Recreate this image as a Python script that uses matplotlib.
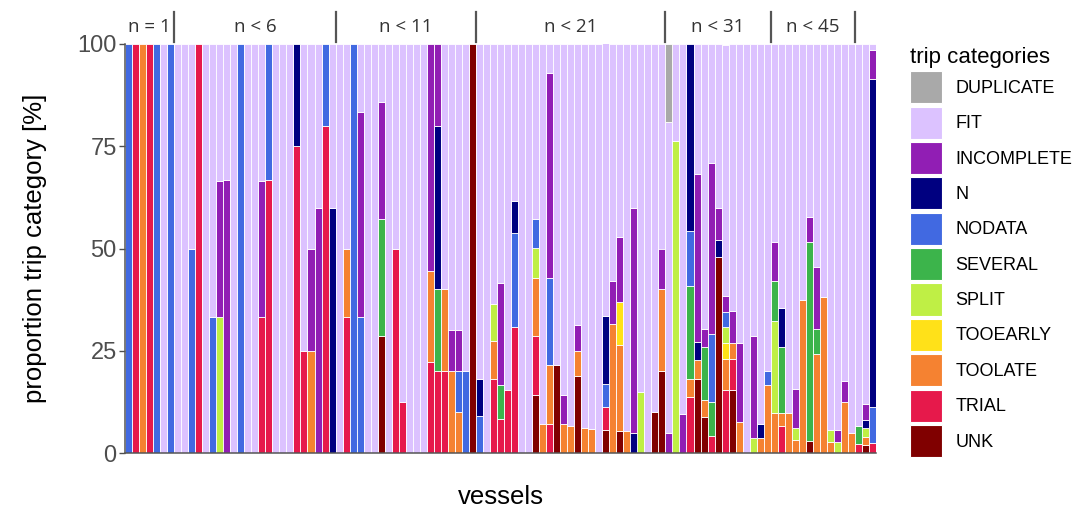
import matplotlib
matplotlib.use('Agg')
import matplotlib.pyplot as plt
import numpy as np
from matplotlib.patches import Patch
from matplotlib.transforms import blended_transform_factory

# stacking order, bottom -> top
CATEGORIES = ['UNK', 'TRIAL', 'TOOLATE', 'TOOEARLY', 'SPLIT', 'SEVERAL',
              'NODATA', 'N', 'INCOMPLETE', 'FIT', 'DUPLICATE']
COLORS = {
    'DUPLICATE': '#A9A9A9',
    'FIT': '#DCC2FF',
    'INCOMPLETE': '#911EB4',
    'N': '#000080',
    'NODATA': '#4169E1',
    'SEVERAL': '#3CB44B',
    'SPLIT': '#BFEF45',
    'TOOEARLY': '#FFE119',
    'TOOLATE': '#F58231',
    'TRIAL': '#E6194B',
    'UNK': '#800000',
}

N_VESSELS = 107

# proportion [%] per vessel (vessel number -> value), zeros left out
UNK = {37: 28.6, 50: 100, 59: 14.3, 62: 21.4, 65: 18.8, 69: 5.6, 71: 5.3,
       76: 10, 77: 20, 82: 18.2, 83: 8.7, 85: 48, 87: 15.4, 98: 3.0, 106: 2}
TRIAL = {2: 100, 4: 100, 11: 100, 20: 33.3, 21: 66.7, 25: 75, 26: 25, 29: 80,
         32: 33.3, 39: 50, 40: 12.5, 44: 22.2, 45: 20, 46: 20, 53: 18.2,
         54: 8.3, 55: 15.4, 56: 30.8, 59: 14.3, 61: 7.1, 69: 5.6, 81: 13.6,
         84: 4.2, 86: 15.4, 87: 7.7, 94: 6.5, 105: 2.2, 107: 2.5}
TOOLATE = {3: 100, 27: 25, 32: 16.7, 44: 22.2, 46: 20, 47: 20, 48: 10,
           53: 9.1, 59: 14.3, 60: 7.1, 61: 14.3, 63: 7.1, 64: 6.7, 65: 6.2,
           66: 6.2, 67: 5.9, 70: 31.6, 71: 21.1, 72: 5.3, 77: 20, 81: 4.5,
           82: 4.5, 83: 4.3, 86: 7.7, 87: 3.8, 88: 7.7, 91: 3.6, 92: 16.7,
           93: 9.7, 94: 3.2, 95: 9.7, 96: 3.1, 97: 37.5, 99: 24.2, 100: 38.2,
           101: 2.8, 103: 12.5, 104: 4.8, 106: 2}
TOOEARLY = {71: 10.5, 86: 3.8}
SPLIT = {14: 33.3, 53: 9.1, 59: 7.1, 74: 15, 79: 76.2, 86: 3.8, 90: 3.6,
         93: 22.6, 96: 3.1, 101: 2.8, 102: 2.8, 106: 2}
SEVERAL = {37: 28.6, 45: 20, 54: 8.3, 81: 22.7, 83: 13.0, 84: 8.3, 93: 9.7,
           94: 16.1, 98: 48.5, 99: 6.1, 105: 4.4}
NODATA = {1: 100, 5: 100, 7: 100, 10: 50, 13: 33.3, 17: 100, 21: 33.3,
          29: 20, 33: 100, 34: 33.3, 48: 10, 49: 20, 51: 9.1, 56: 23.1,
          59: 7.1, 61: 21.4, 69: 5.6, 81: 13.6, 84: 16.7, 86: 3.8, 92: 3.3,
          107: 8.7}
N = {25: 25, 30: 60, 45: 40, 51: 9.1, 56: 7.7, 69: 16.7, 73: 5, 81: 45.5,
     82: 4.5, 85: 4, 91: 3.6, 94: 9.7, 106: 2, 107: 80.2}
INCOMPLETE = {14: 33.3, 15: 66.7, 20: 33.3, 27: 25, 28: 60, 34: 50,
              37: 28.6, 44: 55.6, 45: 20, 47: 10, 48: 10, 54: 25, 61: 50,
              63: 7.1, 65: 6.2, 70: 10.5, 71: 15.8, 73: 55, 77: 10, 78: 4.8,
              80: 9.5, 82: 40.9, 83: 4.3, 84: 41.7, 85: 8, 86: 3.8, 87: 7.7,
              88: 19.2, 90: 25, 93: 9.7, 96: 9.4, 98: 6.1, 99: 15.2,
              102: 2.8, 103: 5, 106: 4, 107: 7.1}
FIT = [0, 0, 0, 0, 0, 100, 0, 100, 100, 50,
       0, 100, 66.7, 33.3, 33.3, 100, 0, 100, 100, 33.3,
       0, 100, 100, 100, 0, 75, 50, 40, 0, 40,
       100, 50, 0, 16.7, 100, 100, 14.3, 100, 50, 87.5,
       100, 100, 100, 0, 0, 60, 70, 70, 80, 0,
       81.8, 100, 63.6, 58.3, 84.6, 38.5, 100, 100, 42.9, 92.9,
       7.1, 78.6, 85.7, 93.3, 68.8, 93.8, 94.1, 100, 66.7, 57.9,
       47.4, 94.7, 40, 85, 100, 90, 50, 76.2, 23.8, 90.5,
       0, 31.8, 69.6, 29.2, 40, 61.5, 65.4, 73.1, 100, 71.4,
       92.8, 80, 48.4, 64.5, 90.3, 84.4, 62.5, 42.4, 54.5, 61.8,
       94.4, 94.4, 82.5, 95.2, 93.4, 88, 1.5]
DUPLICATE = {78: 19.0}

# vessel groups by number of trips: label, last vessel in group
GROUPS = [('n = 1', 7), ('n < 6', 30), ('n < 11', 50), ('n < 21', 77),
          ('n < 31', 92), ('n < 45', 104)]

SERIES = {'UNK': UNK, 'TRIAL': TRIAL, 'TOOLATE': TOOLATE, 'TOOEARLY': TOOEARLY,
          'SPLIT': SPLIT, 'SEVERAL': SEVERAL, 'NODATA': NODATA, 'N': N,
          'INCOMPLETE': INCOMPLETE, 'FIT': FIT, 'DUPLICATE': DUPLICATE}


def to_array(values):
    if isinstance(values, dict):
        arr = np.zeros(N_VESSELS)
        for k, v in values.items():
            arr[k - 1] = v
        return arr
    return np.array(values, dtype=float)


fig = plt.figure(figsize=(10.76, 5.08), dpi=100)
ax = fig.add_axes([125 / 1076, 1 - 453 / 508, 751 / 1076, 409 / 508])

x = np.arange(1, N_VESSELS + 1)
bottom = np.zeros(N_VESSELS)
for cat in CATEGORIES:
    vals = to_array(SERIES[cat])
    m = vals > 0
    ax.bar(x[m], vals[m], bottom=bottom[m], width=1.0, color=COLORS[cat],
           edgecolor='white', linewidth=0.6)
    bottom += vals

ax.set_xlim(0.5, N_VESSELS + 0.5)
ax.set_ylim(0, 100)
ax.set_xticks([])
ax.set_yticks([0, 25, 50, 75, 100])
ax.tick_params(axis='y', labelsize=17, labelcolor='#4D4D4D', color='#4D4D4D',
               length=4, width=1, pad=2)
for lab in ax.get_yticklabels():
    lab.set_family('Liberation Sans')
for side in ('top', 'right'):
    ax.spines[side].set_visible(False)
for side in ('left', 'bottom'):
    ax.spines[side].set_color('#555555')
    ax.spines[side].set_linewidth(1.1)

ax.set_ylabel('proportion trip category [%]', fontsize=18.5,
              family='Liberation Sans', labelpad=22)
ax.set_xlabel('vessels', fontsize=18.5, family='Liberation Sans', labelpad=23)

# group labels above the panel
trans = blended_transform_factory(ax.transData, ax.transAxes)
start = 0.5
for label, last in GROUPS:
    end = last + 0.5
    ax.text((start + end) / 2, 1.041, label, transform=trans, ha='center',
            va='center', fontsize=13.5, family='Open Sans', color='#333333')
    ax.plot([end, end], [1.005, 1.078], transform=trans, color='#555555',
            lw=1.6, clip_on=False)
    start = end

handles = [Patch(facecolor=COLORS[c], edgecolor='white', linewidth=0.8)
           for c in sorted(CATEGORIES)]
leg = fig.legend(handles, sorted(CATEGORIES), loc='upper left',
                 bbox_to_anchor=(910 / 1076, 1 - 47 / 508), frameon=False,
                 title='trip categories', title_fontsize=16,
                 handlelength=1.78, handleheight=2.36, labelspacing=0.18,
                 handletextpad=0.75, borderpad=0, borderaxespad=0,
                 alignment='left', prop={'family': 'Liberation Sans', 'size': 13})
leg.get_title().set_family('Liberation Sans')

fig.savefig('out.png', dpi=100)
